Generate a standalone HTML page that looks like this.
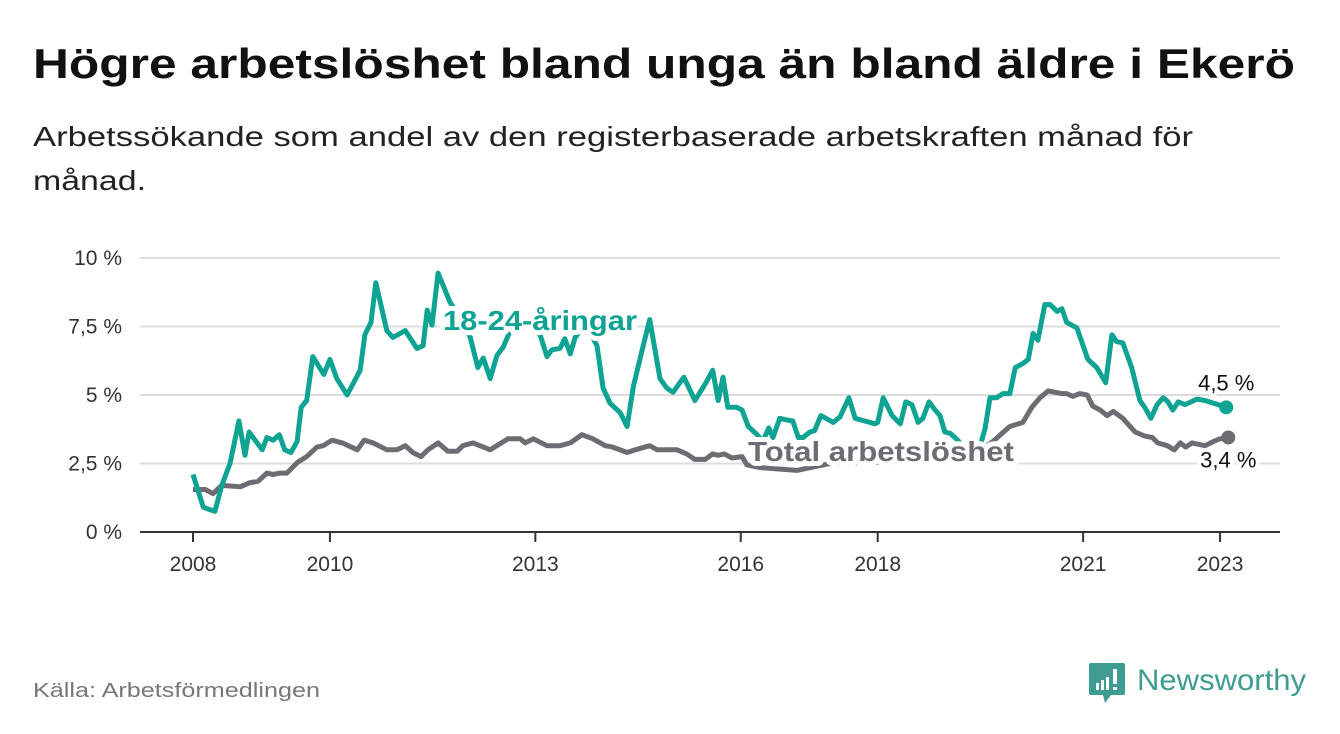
<!DOCTYPE html>
<html><head><meta charset="utf-8"><style>
html,body{margin:0;padding:0;background:#fff;width:1340px;height:734px;overflow:hidden}
svg{display:block;font-family:"Liberation Sans","DejaVu Sans",sans-serif}
</style></head><body>
<svg id="chart" width="1340" height="734" viewBox="0 0 1340 734">
<text x="33" y="78" font-size="42" font-weight="bold" fill="#111" textLength="1262" lengthAdjust="spacingAndGlyphs">Högre arbetslöshet bland unga än bland äldre i Ekerö</text>
<text x="33" y="146" font-size="28" fill="#222" textLength="1160" lengthAdjust="spacingAndGlyphs">Arbetssökande som andel av den registerbaserade arbetskraften månad för</text>
<text x="33" y="190" font-size="28" fill="#222" textLength="113" lengthAdjust="spacingAndGlyphs">månad.</text>
<g id="grid"></g>
<g id="yaxis"></g>
<g id="xaxis"></g>
<g id="series"></g>
<g id="labels"></g>
<text x="33" y="697" font-size="20" fill="#777" textLength="287" lengthAdjust="spacingAndGlyphs">Källa: Arbetsförmedlingen</text>
<g>
<path d="M1091 663 h32 a2 2 0 0 1 2 2 v28 a2 2 0 0 1 -2 2 h-12 l-6 8 l-2 -8 h-12 a2 2 0 0 1 -2 -2 v-28 a2 2 0 0 1 2 -2z" fill="#3e9c92"/>
<rect x="1096" y="683" width="3" height="7" fill="#fff"/><rect x="1101" y="680" width="3" height="10" fill="#fff"/><rect x="1106" y="677" width="3" height="13" fill="#fff"/><rect x="1113" y="669" width="4" height="15" fill="#fff"/><rect x="1113" y="687" width="4" height="3" fill="#fff"/>
<text x="1137" y="690" font-size="30" fill="#3e9c92" textLength="169" lengthAdjust="spacingAndGlyphs">Newsworthy</text>
</g>
</svg>
<script>
const yTicks=[0,2.5,5,7.5,10];
const yTickLabels=["0 %","2,5 %","5 %","7,5 %","10 %"];
const xTicks=[2008,2010,2013,2016,2018,2021,2023];
const youthDates=[2008.00,2008.15,2008.32,2008.42,2008.54,2008.67,2008.76,2008.82,2009.01,2009.08,2009.17,2009.26,2009.34,2009.43,2009.52,2009.58,2009.66,2009.75,2009.91,2010.00,2010.10,2010.25,2010.44,2010.51,2010.60,2010.67,2010.83,2010.92,2011.10,2011.27,2011.36,2011.42,2011.49,2011.58,2011.75,2011.90,2012.05,2012.16,2012.24,2012.34,2012.44,2012.53,2012.66,2012.85,2013.07,2013.17,2013.24,2013.36,2013.43,2013.51,2013.58,2013.73,2013.90,2013.99,2014.09,2014.24,2014.34,2014.43,2014.56,2014.67,2014.82,2014.92,2015.01,2015.17,2015.33,2015.48,2015.59,2015.67,2015.74,2015.81,2015.94,2016.02,2016.11,2016.24,2016.32,2016.41,2016.47,2016.57,2016.65,2016.76,2016.84,2016.91,2017.01,2017.08,2017.17,2017.35,2017.45,2017.58,2017.67,2017.81,2017.96,2018.00,2018.08,2018.21,2018.33,2018.41,2018.50,2018.59,2018.66,2018.75,2018.84,2018.91,2018.98,2019.06,2019.17,2019.28,2019.42,2019.52,2019.57,2019.64,2019.74,2019.83,2019.93,2020.01,2020.12,2020.20,2020.27,2020.34,2020.44,2020.52,2020.62,2020.69,2020.76,2020.91,2021.07,2021.20,2021.33,2021.42,2021.49,2021.58,2021.71,2021.83,2021.90,2021.99,2022.08,2022.17,2022.24,2022.31,2022.39,2022.49,2022.66,2022.78,2023.09];
const youthValues=[2.1,0.9,0.75,1.7,2.5,4.05,2.8,3.65,3.0,3.45,3.35,3.55,3.0,2.9,3.3,4.55,4.8,6.4,5.75,6.3,5.6,5.0,5.9,7.2,7.65,9.1,7.35,7.1,7.35,6.7,6.8,8.1,7.55,9.45,8.4,7.8,7.1,6.0,6.35,5.6,6.45,6.75,7.5,7.6,7.2,6.4,6.65,6.7,7.05,6.5,7.1,7.6,6.8,5.25,4.7,4.35,3.85,5.3,6.65,7.75,5.6,5.25,5.1,5.65,4.8,5.4,5.9,4.8,5.65,4.55,4.55,4.45,3.85,3.55,3.3,3.8,3.45,4.15,4.1,4.05,3.45,3.45,3.65,3.7,4.25,4.0,4.2,4.9,4.15,4.05,3.95,4.0,4.9,4.25,3.95,4.75,4.65,4.0,4.15,4.75,4.45,4.25,3.65,3.6,3.35,3.0,3.05,3.35,3.8,4.9,4.9,5.05,5.05,6.0,6.15,6.3,7.25,7.0,8.3,8.3,8.05,8.15,7.65,7.45,6.3,6.0,5.45,7.2,6.95,6.9,6.0,4.8,4.55,4.15,4.65,4.9,4.75,4.45,4.75,4.65,4.85,4.8,4.55];
const totalDates=[2008.00,2008.18,2008.29,2008.42,2008.69,2008.83,2008.95,2009.08,2009.17,2009.27,2009.37,2009.53,2009.66,2009.81,2009.90,2010.03,2010.18,2010.40,2010.50,2010.63,2010.83,2010.98,2011.10,2011.21,2011.33,2011.43,2011.58,2011.72,2011.86,2011.94,2012.09,2012.19,2012.34,2012.60,2012.78,2012.85,2012.97,2013.17,2013.36,2013.51,2013.68,2013.84,2014.02,2014.13,2014.34,2014.46,2014.67,2014.78,2015.07,2015.21,2015.33,2015.48,2015.59,2015.67,2015.76,2015.87,2016.02,2016.09,2016.28,2016.82,2017.30,2018.03,2018.76,2019.35,2019.57,2019.68,2019.93,2020.12,2020.25,2020.37,2020.49,2020.59,2020.69,2020.76,2020.85,2020.95,2021.06,2021.14,2021.25,2021.35,2021.44,2021.58,2021.76,2021.90,2022.01,2022.09,2022.23,2022.33,2022.42,2022.50,2022.59,2022.78,2022.90,2023.00,2023.12];
const totalValues=[1.55,1.55,1.4,1.7,1.65,1.8,1.85,2.15,2.1,2.15,2.15,2.55,2.75,3.1,3.15,3.35,3.25,3.0,3.35,3.25,3.0,3.0,3.15,2.9,2.75,3.0,3.25,2.95,2.95,3.15,3.25,3.15,3.0,3.4,3.4,3.25,3.4,3.15,3.15,3.25,3.55,3.4,3.15,3.1,2.9,3.0,3.15,3.0,3.0,2.85,2.65,2.65,2.85,2.8,2.85,2.7,2.75,2.45,2.35,2.25,2.5,2.55,2.6,2.8,3.1,3.3,3.85,4.0,4.55,4.9,5.15,5.1,5.05,5.05,4.95,5.05,5.0,4.6,4.45,4.25,4.4,4.15,3.65,3.5,3.45,3.25,3.15,3.0,3.25,3.1,3.25,3.15,3.3,3.4,3.45];

const NS="http://www.w3.org/2000/svg";
const X=d=>193+(d-2008)*68.47;
const Y=v=>532-v*27.4;
function mk(tag,attrs,parent){const e=document.createElementNS(NS,tag);for(const k in attrs)e.setAttribute(k,attrs[k]);parent.appendChild(e);return e;}
const grid=document.getElementById('grid'),ya=document.getElementById('yaxis'),xa=document.getElementById('xaxis'),ser=document.getElementById('series'),lab=document.getElementById('labels');
yTicks.forEach((t,i)=>{
  if(t>0){const g=mk('line',{x1:140,x2:1280,y1:Y(t),y2:Y(t),stroke:'#dcdcdc','stroke-width':2},grid);
  
  }
  const tx=mk('text',{x:122,y:Y(t)+7,'font-size':21,fill:'#333','text-anchor':'end'},ya);
  tx.textContent=yTickLabels[i];
  
  
});
const ax=mk('line',{x1:140,x2:1280,y1:532,y2:532,stroke:'#333','stroke-width':2},xa);


xTicks.forEach(t=>{
  const tk=mk('line',{x1:X(t),x2:X(t),y1:532,y2:542,stroke:'#333','stroke-width':2},xa);
  
  
  const tx=mk('text',{x:X(t),y:571,'font-size':21,fill:'#333','text-anchor':'middle'},xa);
  tx.textContent=t;
  
  
});
function line(dates,vals,color,name){
  const d=dates.map((t,i)=>(i?'L':'M')+X(t).toFixed(1)+' '+Y(vals[i]).toFixed(1)).join(' ');
  const p=mk('path',{d:d,fill:'none',stroke:color,'stroke-width':5,'stroke-linejoin':'round'},ser);
  
  
  const n=dates.length-1;
  const c=mk('circle',{cx:X(dates[n]),cy:Y(vals[n]),r:7,fill:color},ser);
  
  
}
line(totalDates,totalValues,'#6e6b73','total');
line(youthDates,youthValues,'#0ea393','youth');
function label(x,y,txt,color,bold,anchor,name,len){
  const a={x:x,y:y,'font-size':bold?28:22,'font-weight':bold?'bold':'normal',fill:color,stroke:'#fff','stroke-width':bold?10:7,'paint-order':'stroke','stroke-linejoin':'round','text-anchor':anchor};
  if(len){a.textLength=len;a.lengthAdjust='spacingAndGlyphs';}
  const t=mk('text',a,lab);
  t.textContent=txt;
  
  
}
label(443,330,'18-24-åringar','#0ea393',true,'start','youth-series-label',194);
label(748,461,'Total arbetslöshet','#6e6b73',true,'start','total-series-label',266);
const n1=youthDates.length-1,n2=totalDates.length-1;
label(X(youthDates[n1]),Y(youthValues[n1])-17,'4,5 %','#111',false,'middle','youth-end-value');
label(X(totalDates[n2]),Y(totalValues[n2])+30,'3,4 %','#111',false,'middle','total-end-value');
</script>
</body></html>
